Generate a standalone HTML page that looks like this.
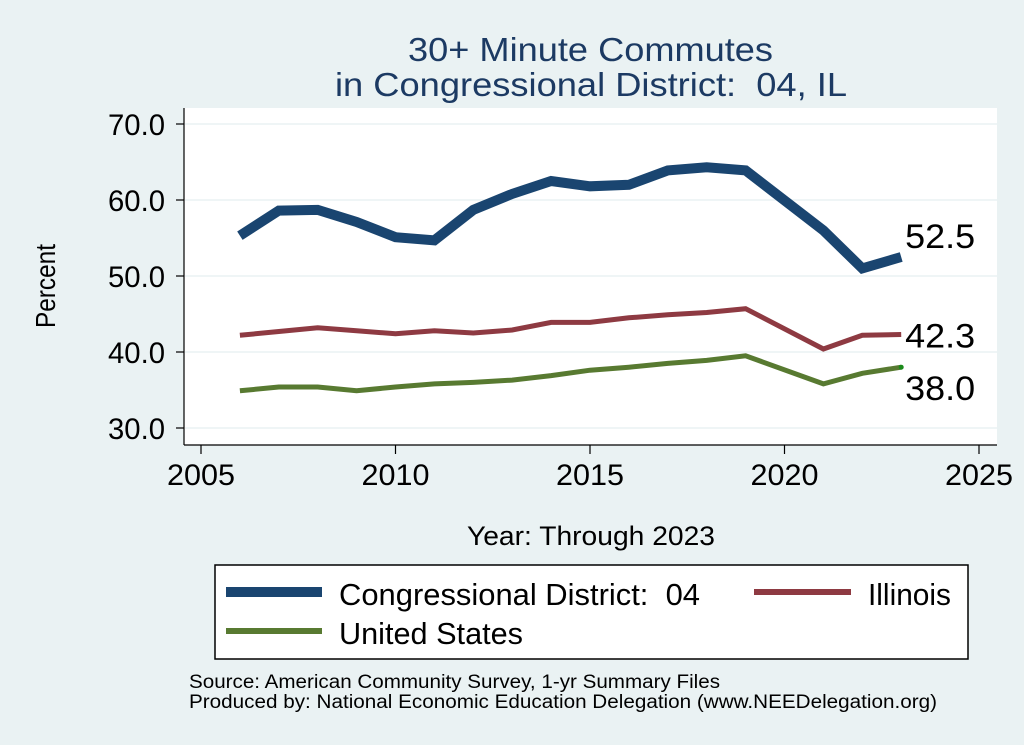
<!DOCTYPE html>
<html><head><meta charset="utf-8"><style>
body{margin:0;background:#eaf2f3;}
svg{display:block;font-family:"Liberation Sans",sans-serif;}
text{white-space:pre;}
</style></head><body>
<svg id="c" width="1024" height="745">
<rect x="0" y="0" width="1024" height="745" fill="#eaf2f3"/>
<text x="408" y="61" font-size="33" fill="#1c3a63" textLength="365" lengthAdjust="spacingAndGlyphs">30+ Minute Commutes</text>
<text x="335" y="96" font-size="33" fill="#1c3a63" textLength="512" lengthAdjust="spacingAndGlyphs" xml:space="preserve">in Congressional District:  04, IL</text>
<rect x="184" y="108" width="813" height="337" fill="#fff"/>
<g id="grid"></g><g id="axes"></g><g id="series"></g>
<text x="55" y="286" font-size="28" fill="#000" text-anchor="middle" transform="rotate(-90 55 286)" textLength="84" lengthAdjust="spacingAndGlyphs">Percent</text>
<text x="467" y="545" font-size="27" fill="#000" textLength="248" lengthAdjust="spacingAndGlyphs">Year: Through 2023</text>
<g>
<rect x="215" y="565" width="753" height="94" fill="#fff" stroke="#000" stroke-width="1.5"/>
<line x1="226" y1="592" x2="322" y2="592" stroke="#1a4570" stroke-width="10"/>
<text x="339" y="605" font-size="31" textLength="361" lengthAdjust="spacingAndGlyphs" xml:space="preserve">Congressional District:  04</text>
<line x1="754" y1="592" x2="851" y2="592" stroke="#8e3a42" stroke-width="6"/>
<text x="868" y="605" font-size="31" textLength="83" lengthAdjust="spacingAndGlyphs">Illinois</text>
<line x1="226" y1="631" x2="322" y2="631" stroke="#587a31" stroke-width="6"/>
<text x="339" y="644" font-size="31" textLength="184" lengthAdjust="spacingAndGlyphs">United States</text>
</g>
<text x="189" y="688" font-size="19" textLength="531" lengthAdjust="spacingAndGlyphs">Source: American Community Survey, 1-yr Summary Files</text>
<text x="189" y="708" font-size="19" textLength="748" lengthAdjust="spacingAndGlyphs">Produced by: National Economic Education Delegation (www.NEEDelegation.org)</text>
</svg>
<script>
const years=[2006,2007,2008,2009,2010,2011,2012,2013,2014,2015,2016,2017,2018,2019,2021,2022,2023];
const district=[55.3,58.6,58.7,57.1,55.1,54.7,58.7,60.8,62.5,61.8,62.0,63.9,64.3,63.9,56.0,51.0,52.5];
const illinois=[42.2,42.7,43.2,42.8,42.4,42.8,42.5,42.9,43.9,43.9,44.5,44.9,45.2,45.7,40.4,42.2,42.3];
const us=[34.9,35.4,35.4,34.9,35.4,35.8,36.0,36.3,36.9,37.6,38.0,38.5,38.9,39.5,35.8,37.2,38.0];
const yTicks=[30,40,50,60,70];
const xTicks=[2005,2010,2015,2020,2025];
const NS="http://www.w3.org/2000/svg";
const xs=y=>201+(y-2005)*(979-201)/20;
const ys=v=>428-(v-30)*(428-124)/40;
function mk(tag,at,parent,txt){const e=document.createElementNS(NS,tag);for(const k in at)e.setAttribute(k,at[k]);if(txt!=null)e.textContent=txt;parent.appendChild(e);return e;}
const grid=document.getElementById('grid'),axes=document.getElementById('axes'),ser=document.getElementById('series');
mk('line',{x1:184,y1:108,x2:184,y2:445,stroke:'#000','stroke-width':1.2},axes);
mk('line',{x1:184,y1:445,x2:997,y2:445,stroke:'#000','stroke-width':1.2},axes);
yTicks.forEach(v=>{
 const g=mk('line',{x1:185,x2:997,y1:ys(v),y2:ys(v),stroke:'#eaf2f3','stroke-width':1.5},grid);
 
 
 mk('line',{x1:176,x2:184,y1:ys(v),y2:ys(v),stroke:'#000','stroke-width':1.2},axes);
 const t=mk('text',{x:108,y:ys(v)+11,'font-size':30,textLength:57,lengthAdjust:'spacingAndGlyphs'},axes,v.toFixed(1));
 
 
});
xTicks.forEach(v=>{
 mk('line',{x1:xs(v),x2:xs(v),y1:445,y2:454,stroke:'#000','stroke-width':1.2},axes);
 const t=mk('text',{x:xs(v)-34,y:485,'font-size':30,textLength:68,lengthAdjust:'spacingAndGlyphs'},axes,v);
 
 
});
function line(vals,color,w,name,lblDy,dot){
 const d=vals.map((v,i)=>(i?'L':'M')+xs(years[i]).toFixed(1)+','+ys(v).toFixed(1)).join(' ');
 const p=mk('path',{d:d,fill:'none',stroke:color,'stroke-width':w,'stroke-linejoin':'miter'},ser);
 
 
 const last=vals[vals.length-1],lx=xs(years[years.length-1]),ly=ys(last);
 if(dot){mk('circle',{cx:lx,cy:ly,r:2.5,fill:dot},ser);}
 const t=mk('text',{x:lx+4,y:ly+lblDy,'font-size':34,textLength:70,lengthAdjust:'spacingAndGlyphs'},ser,last.toFixed(1));
 
 
}
line(district,'#1a4570',10,'district',-9);
line(illinois,'#8e3a42',5,'illinois',13);
line(us,'#587a31',5,'us',33,'#1a8a1a');
</script>
</body></html>
